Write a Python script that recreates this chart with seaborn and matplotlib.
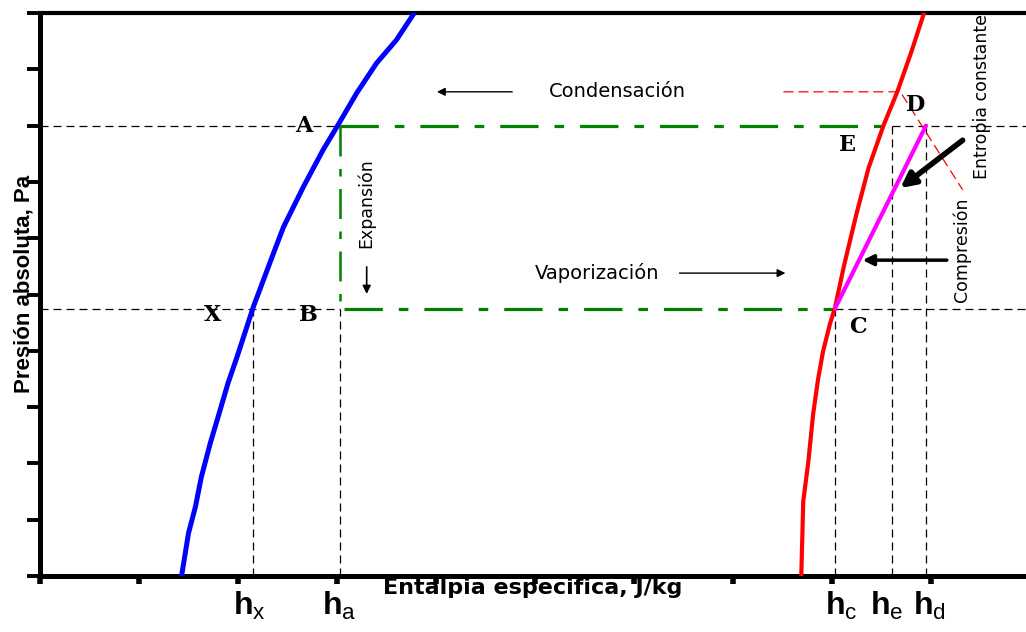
import matplotlib
matplotlib.use("Agg")
import matplotlib.pyplot as plt
import seaborn as sns
import numpy as np

# --- datos leidos del diagrama (unidades arbitrarias: entalpia 0-10, presion 0-10) ---
# curva de liquido saturado (azul)
liq_h = [1.43, 1.50, 1.57, 1.63, 1.72, 1.82, 1.90, 1.99, 2.07, 2.155,
         2.36, 2.46, 2.66, 2.86, 3.01, 3.20, 3.40, 3.60, 3.78]
liq_p = [0.00, 0.76, 1.23, 1.76, 2.36, 2.95, 3.43, 3.89, 4.32, 4.78,
         5.74, 6.20, 6.91, 7.57, 8.01, 8.58, 9.11, 9.52, 10.0]
# curva de vapor saturado (roja)
vap_h = [7.69, 7.71, 7.76, 7.81, 7.86, 7.91, 7.98, 8.03, 8.12, 8.25,
         8.37, 8.52, 8.66, 8.80, 8.93]
vap_p = [0.00, 1.33, 2.01, 2.88, 3.50, 3.99, 4.48, 4.76, 5.50, 6.45,
         7.25, 8.00, 8.60, 9.30, 10.0]

p_alta = 8.0
p_baja = 4.75
h_x, h_a, h_c, h_e, h_d = 2.15, 3.03, 8.03, 8.61, 8.95
h_E = 8.50  # fin de la condensacion sobre la curva roja

# linea de entropia constante (guia roja fina)
guia_h = [7.51, 8.69, 9.32]
guia_p = [8.60, 8.60, 6.86]

puntos = {"A": (2.66, 7.99), "X": (1.74, 4.64), "B": (2.71, 4.64),
          "C": (8.26, 4.42), "D": (8.84, 8.37), "E": (8.16, 7.65)}

h_sub = ["x", "a", "c", "e", "d"]
h_lbl_pos = [1.95, 2.85, 7.93, 8.38, 8.82]

sns.set_style("ticks")
plt.rcParams['font.family'] = ['DejaVu Sans']
plt.rcParams['text.color'] = 'black'
plt.rcParams['mathtext.fontset'] = 'custom'
plt.rcParams['mathtext.rm'] = 'Liberation Sans'
plt.rcParams['mathtext.bf'] = 'Liberation Sans:bold'

fig = plt.figure(figsize=(10.26, 6.32), dpi=100)
ax = fig.add_axes([40 / 1026, 56 / 632, 986 / 1026, 563 / 632])

negro_disc = dict(color='black', lw=0.9, ls=(0, (6.4, 4)), zorder=1)
# lineas de referencia discontinuas
ax.plot([0, h_a], [p_alta, p_alta], **negro_disc)
ax.plot([h_e, 9.96], [p_alta, p_alta], **negro_disc)
ax.plot([0, h_a], [p_baja, p_baja], **negro_disc)
ax.plot([h_c, 9.96], [p_baja, p_baja], **negro_disc)
for h in [h_x, h_a, h_c]:
    ax.plot([h, h], [0, p_baja], **negro_disc)
for h in [h_e, h_d]:
    ax.plot([h, h], [0, p_alta], **negro_disc)

# ciclo (verde, punto y raya)
verde = '#008000'
ax.plot([h_a, h_E], [p_alta, p_alta], color=verde, lw=2.3, ls=(0, (12, 5, 3, 5)), zorder=2)
ax.plot([h_a, h_a], [p_alta, p_baja], color=verde, lw=1.8, ls=(0, (12, 5, 3, 5)), zorder=2)
ax.plot([h_a + 0.04, h_c], [p_baja, p_baja], color=verde, lw=2.3, ls=(0, (12, 5, 3, 5)), zorder=2)

ax.plot(guia_h, guia_p, color='red', lw=0.9, ls=(0, (8, 4)), zorder=2)

sns.lineplot(x=liq_h, y=liq_p, sort=False, color='blue', lw=3.6, ax=ax, zorder=3)
sns.lineplot(x=vap_h, y=vap_p, sort=False, color='red', lw=3.0, ax=ax, zorder=3)
sns.lineplot(x=[h_c, h_d], y=[p_baja, p_alta], sort=False, color='magenta', lw=3.0, ax=ax, zorder=4)

# flechas
def flecha(x0, y0, x1, y1, lw, ms):
    ax.annotate("", xy=(x1, y1), xytext=(x0, y0),
                arrowprops=dict(arrowstyle='-|>', color='black', lw=lw,
                                mutation_scale=ms, shrinkA=0, shrinkB=0), zorder=5)

flecha(4.77, 8.60, 4.01, 8.60, 1.0, 12)
flecha(6.46, 5.38, 7.53, 5.38, 1.0, 12)
flecha(3.30, 5.49, 3.30, 5.01, 1.2, 12)
flecha(9.32, 7.74, 8.69, 6.89, 4.0, 22)
flecha(9.16, 5.61, 8.31, 5.61, 2.5, 16)

# textos
ax.text(5.83, 8.60, "Condensación", fontsize=14, ha='center', va='center')
ax.text(5.63, 5.38, "Vaporización", fontsize=14, ha='center', va='center')
ax.text(3.29, 6.63, "Expansión", fontsize=12.5, rotation=90, ha='center', va='center')
ax.text(9.52, 8.51, "Entropia constante", fontsize=12.5, rotation=90, ha='center', va='center')
ax.text(9.31, 5.79, "Compresión", fontsize=12.5, rotation=90, ha='center', va='center')

for k, (x, y) in puntos.items():
    ax.text(x, y, k, fontsize=16, fontweight='bold', family='DejaVu Serif',
            ha='center', va='center', zorder=6)

for s, x in zip(h_sub, h_lbl_pos):
    ax.text(x, -0.25, r'$\mathbf{h}_{\mathrm{%s}}$' % s, fontsize=23,
            ha='left', va='top', clip_on=False)

ax.text(4.98, -0.03, "Entalpia especifica, J/kg", fontsize=16, fontweight='bold',
        ha='center', va='top', clip_on=False, zorder=10)
ax.text(-0.16, 5.19, "Presión absoluta, Pa", fontsize=16, fontweight='bold',
        family='Liberation Sans', rotation=90, ha='center', va='center', clip_on=False)

ax.set_xlim(0, 9.96)
ax.set_ylim(0, 10)
ax.set_xticks(np.arange(0, 10))
ax.set_yticks(np.arange(0, 11))
ax.set_xticklabels([])
ax.set_yticklabels([])
ax.set_xlabel("")
ax.set_ylabel("")
ax.tick_params(axis='y', direction='out', length=9.5, width=2.8, color='black')
ax.tick_params(axis='x', direction='out', length=5.5, width=4.0, color='black')
ax.spines['right'].set_visible(False)
ax.spines['left'].set_linewidth(3.6)
ax.spines['bottom'].set_linewidth(3.6)
ax.spines['top'].set_linewidth(3.0)
for s in ['left', 'bottom', 'top']:
    ax.spines[s].set_color('black')

fig.savefig("out.png", dpi=100)
